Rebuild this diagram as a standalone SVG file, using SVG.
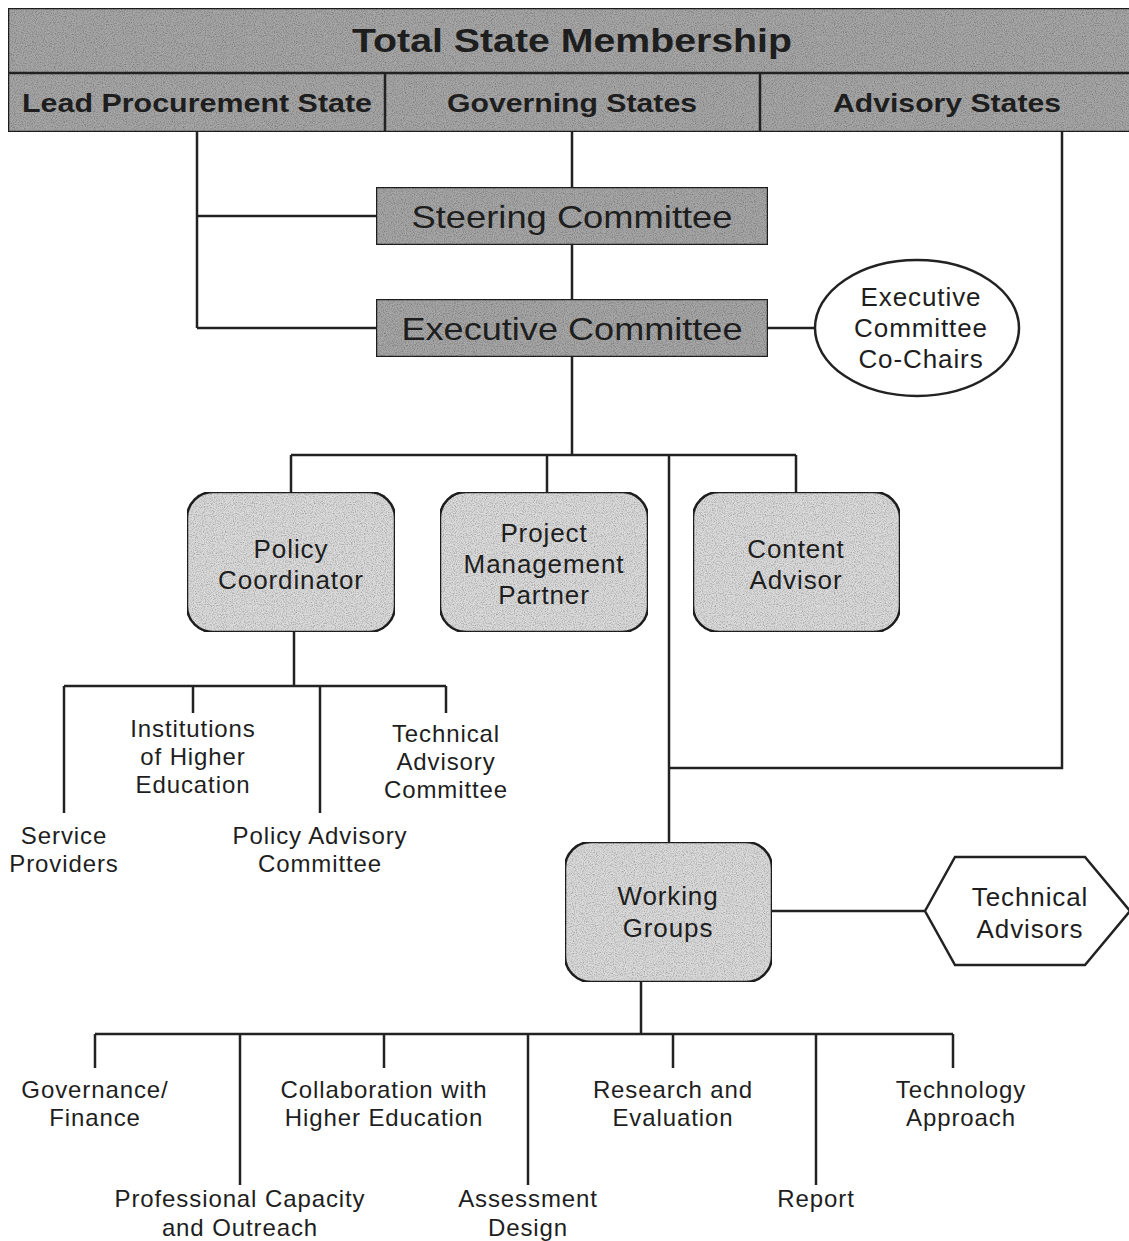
<svg xmlns="http://www.w3.org/2000/svg" width="1129" height="1241" viewBox="0 0 1129 1241">
  <style>
    .ln { stroke: #222; stroke-width: 2.5; fill: none; }
    .dark { fill: #a6a6a6; stroke: #222; stroke-width: 2.5; }
    .light { fill: #dadada; stroke: #222; stroke-width: 2.5; }
    .plain { fill: #fff; stroke: #222; stroke-width: 2.5; }
    text { font-family: "Liberation Sans", Arial, sans-serif; fill: #1e1e1e; text-anchor: middle; }
    .hb { font-weight: bold; }
    .big { font-size: 32px; }
    .mid { font-size: 26px; letter-spacing: 0.9px; }
    .sm { font-size: 24px; letter-spacing: 0.9px; }
  </style>
  <defs>
    <!-- speckled print texture for the shaded shapes -->
    <filter id="grain" x="0" y="0" width="100%" height="100%">
      <feTurbulence type="fractalNoise" baseFrequency="0.9" numOctaves="2" seed="3" result="n"/>
      <feColorMatrix in="n" type="matrix" values="0 0 0 0 0  0 0 0 0 0  0 0 0 0 0  0 0 0 -1.1 0.65" result="speck"/>
      <feComposite in="speck" in2="SourceGraphic" operator="in" result="clip"/>
      <feMerge><feMergeNode in="SourceGraphic"/><feMergeNode in="clip"/></feMerge>
    </filter>
  </defs>

  <rect width="1129" height="1241" fill="#fff"/>

  <!-- connectors -->
  <g id="connectors" class="ln">
    <path d="M197 132 V328 M197 216 H376 M197 328 H376"/>
    <path d="M572 132 V187 M572 245 V299 M572 357 V455"/>
    <path d="M768 328 H815"/>
    <path d="M291 455 H796 M291 455 V492 M547 455 V492 M796 455 V492"/>
    <path d="M669 455 V842"/>
    <path d="M1062 132 V768 H669"/>
    <path d="M294 632 V686 M64 686 H446 M64 686 V813 M193 686 V713 M320 686 V813 M446 686 V713"/>
    <path d="M772 911 H925"/>
    <path d="M641 982 V1034 M95 1034 H953"/>
    <path d="M95 1034 V1068 M240 1034 V1185 M384 1034 V1068 M528 1034 V1185 M673 1034 V1068 M816 1034 V1185 M953 1034 V1068"/>
  </g>

  <!-- membership header -->
  <g id="membership">
    <rect class="dark" x="8" y="8" width="1130" height="124" filter="url(#grain)"/>
    <path class="ln" d="M8 73 H1129 M385 73 V132 M760 73 V132"/>
    <text class="hb" x="572" y="52" font-size="33" textLength="440" lengthAdjust="spacingAndGlyphs">Total State Membership</text>
    <text class="hb" x="197" y="112" font-size="26" textLength="350" lengthAdjust="spacingAndGlyphs">Lead Procurement State</text>
    <text class="hb" x="572" y="112" font-size="26" textLength="250" lengthAdjust="spacingAndGlyphs">Governing States</text>
    <text class="hb" x="947" y="112" font-size="26" textLength="228" lengthAdjust="spacingAndGlyphs">Advisory States</text>
  </g>

  <g id="steering">
    <rect class="dark" x="376" y="187" width="392" height="58" filter="url(#grain)"/>
    <text class="big" x="572" y="228" textLength="321" lengthAdjust="spacingAndGlyphs">Steering Committee</text>
  </g>

  <g id="executive">
    <rect class="dark" x="376" y="299" width="392" height="58" filter="url(#grain)"/>
    <text class="big" x="572" y="340" textLength="341" lengthAdjust="spacingAndGlyphs">Executive Committee</text>
  </g>

  <g id="cochairs">
    <ellipse class="plain" cx="917" cy="328" rx="102" ry="68"/>
    <text class="mid" x="921" y="306">Executive</text>
    <text class="mid" x="921" y="337">Committee</text>
    <text class="mid" x="921" y="368">Co-Chairs</text>
  </g>

  <g id="policy-coordinator">
    <rect class="light" x="187" y="492" width="208" height="140" rx="26" filter="url(#grain)"/>
    <text class="mid" x="291" y="558">Policy</text>
    <text class="mid" x="291" y="589">Coordinator</text>
  </g>

  <g id="project-management">
    <rect class="light" x="440" y="492" width="208" height="140" rx="26" filter="url(#grain)"/>
    <text class="mid" x="544" y="542">Project</text>
    <text class="mid" x="544" y="573">Management</text>
    <text class="mid" x="544" y="604">Partner</text>
  </g>

  <g id="content-advisor">
    <rect class="light" x="693" y="492" width="207" height="140" rx="26" filter="url(#grain)"/>
    <text class="mid" x="796" y="558">Content</text>
    <text class="mid" x="796" y="589">Advisor</text>
  </g>

  <g id="institutions">
    <text class="sm" x="193" y="737">Institutions</text>
    <text class="sm" x="193" y="765">of Higher</text>
    <text class="sm" x="193" y="793">Education</text>
  </g>
  <g id="technical-advisory-committee">
    <text class="sm" x="446" y="742">Technical</text>
    <text class="sm" x="446" y="770">Advisory</text>
    <text class="sm" x="446" y="798">Committee</text>
  </g>
  <g id="service-providers">
    <text class="sm" x="64" y="844">Service</text>
    <text class="sm" x="64" y="872">Providers</text>
  </g>
  <g id="policy-advisory-committee">
    <text class="sm" x="320" y="844">Policy Advisory</text>
    <text class="sm" x="320" y="872">Committee</text>
  </g>

  <g id="working-groups">
    <rect class="light" x="565" y="842" width="207" height="140" rx="26" filter="url(#grain)"/>
    <text class="mid" x="668" y="905">Working</text>
    <text class="mid" x="668" y="937">Groups</text>
  </g>

  <g id="technical-advisors">
    <polygon class="plain" points="925,911 955,857 1085,857 1130,911 1085,965 955,965"/>
    <text class="mid" x="1030" y="906">Technical</text>
    <text class="mid" x="1030" y="938">Advisors</text>
  </g>

  <g id="governance">
    <text class="sm" x="95" y="1098">Governance/</text>
    <text class="sm" x="95" y="1126">Finance</text>
  </g>
  <g id="collaboration">
    <text class="sm" x="384" y="1098">Collaboration with</text>
    <text class="sm" x="384" y="1126">Higher Education</text>
  </g>
  <g id="research">
    <text class="sm" x="673" y="1098">Research and</text>
    <text class="sm" x="673" y="1126">Evaluation</text>
  </g>
  <g id="technology">
    <text class="sm" x="961" y="1098">Technology</text>
    <text class="sm" x="961" y="1126">Approach</text>
  </g>
  <g id="professional-capacity">
    <text class="sm" x="240" y="1207">Professional Capacity</text>
    <text class="sm" x="240" y="1236">and Outreach</text>
  </g>
  <g id="assessment">
    <text class="sm" x="528" y="1207">Assessment</text>
    <text class="sm" x="528" y="1236">Design</text>
  </g>
  <g id="report">
    <text class="sm" x="816" y="1207">Report</text>
  </g>
</svg>
